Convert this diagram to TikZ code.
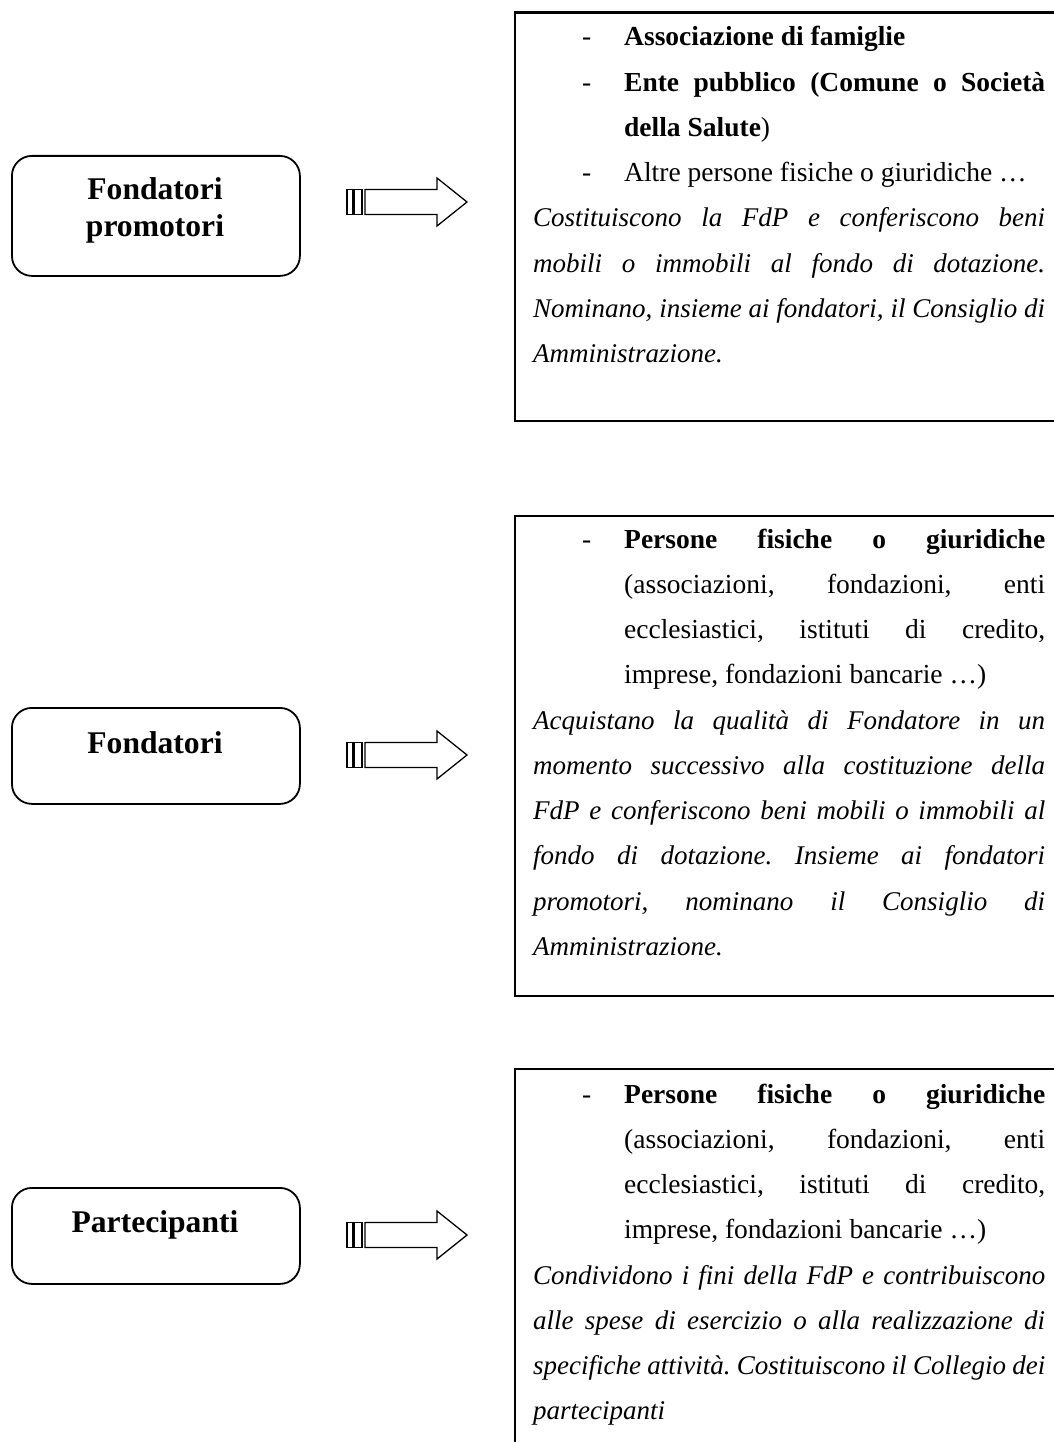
\documentclass[tikz,border=0pt]{standalone}
\usepackage{fontspec}
\setmainfont{Liberation Serif}
\frenchspacing
\newcommand\itbody{\fontsize{27}{45.25}\selectfont\itshape}
\newcommand\rjust[1]{\hbox to 512pt{\itbody #1}}
\newcommand\rnat[1]{\hbox{\itbody #1}}
\newcommand\rdashj[1]{\hbox to 512pt{\kern49pt\hbox to 42pt{-\hss}#1}}
\newcommand\rdashn[1]{\hbox{\kern49pt\hbox to 42pt{-\hss}#1}}
\newcommand\rindj[1]{\hbox to 512pt{\kern91pt #1}}
\newcommand\rindn[1]{\hbox{\kern91pt #1}}
\newcommand\rtext[1]{\vtop{\hsize=512pt\fontsize{27.5}{45.25}\selectfont\frenchspacing\lineskiplimit=-100pt\lineskip=0pt #1}}
\begin{document}
\begin{tikzpicture}[x=1pt,y=-1pt,
  lbox/.style={draw, line width=1.8pt, rounded corners=20pt, minimum width=288pt, inner sep=0pt, anchor=north west},
  rbox/.style={draw, line width=2.2pt, minimum width=600pt, inner sep=0pt, anchor=north west},
  lbl/.style={font=\fontsize{31.6}{36.7}\selectfont\bfseries, inner sep=0pt, anchor=base},
  body/.style={inner sep=0pt, anchor=base west},
  barrow/.pic={
    \draw[line width=1.3pt] (0,-12.5) rectangle (6,12.5);
    \draw[line width=1.3pt] (7.5,-12.5) rectangle (15,12.5);
    \draw[line width=1.3pt, line join=miter] (18,-12.5) -- (90,-12.5) -- (90,-24) -- (120,0) -- (90,24) -- (90,12.5) -- (18,12.5) -- cycle;
  }]
\useasboundingbox (0,0) rectangle (1054,1442);
\clip (0,0) rectangle (1054,1442);

% left rounded boxes
\node[lbox, minimum height=120pt] (b1) at (11,155) {};
\node[lbox, minimum height=96pt] (b2) at (11,707) {};
\node[lbox, minimum height=96pt] (b3) at (11,1187) {};
\node[lbl] (l1) at (155,200) {\begin{tabular}[t]{@{}c@{}}Fondatori\\promotori\end{tabular}};
\node[lbl] (l2) at (155,753) {Fondatori};
\node[lbl] (l3) at (155,1232) {Partecipanti};

% block arrows
\pic (a1) at (347,202) {barrow};
\pic (a2) at (347,755) {barrow};
\pic (a3) at (347,1235) {barrow};

% right boxes
\node[rbox, minimum height=408pt] (r1) at (514,11.5) {};
\node[rbox, minimum height=480pt] (r2) at (514,515) {};
\node[rbox, minimum height=420pt] (r3) at (514,1068) {};

\node[body] (t1) at (533,46) {\rtext{%
\rdashn{\bfseries Associazione di famiglie}
\rdashj{\bfseries Ente pubblico (Comune o Società}
\rindn{{\bfseries della Salute})}
\rdashn{Altre persone fisiche o giuridiche …}
\rjust{Costituiscono la FdP e conferiscono beni}
\rjust{mobili o immobili al fondo di dotazione.}
\rjust{Nominano, insieme ai fondatori, il Consiglio di}
\rnat{Amministrazione.}}};

\node[body] (t2) at (533,548) {\rtext{%
\rdashj{\bfseries Persone fisiche o giuridiche}
\rindj{(associazioni, fondazioni, enti}
\rindj{ecclesiastici, istituti di credito,}
\rindn{imprese, fondazioni bancarie …)}
\rjust{Acquistano la qualità di Fondatore in un}
\rjust{momento successivo alla costituzione della}
\rjust{FdP e conferiscono beni mobili o immobili al}
\rjust{fondo di dotazione. Insieme ai fondatori}
\rjust{promotori, nominano il Consiglio di}
\rnat{Amministrazione.}}};

\node[body] (t3) at (533,1103) {\rtext{%
\rdashj{\bfseries Persone fisiche o giuridiche}
\rindj{(associazioni, fondazioni, enti}
\rindj{ecclesiastici, istituti di credito,}
\rindn{imprese, fondazioni bancarie …)}
\rjust{Condividono i fini della FdP e contribuiscono}
\rjust{alle spese di esercizio o alla realizzazione di}
\rjust{specifiche attività. Costituiscono il Collegio dei}
\rnat{partecipanti}}};
\end{tikzpicture}
\end{document}
